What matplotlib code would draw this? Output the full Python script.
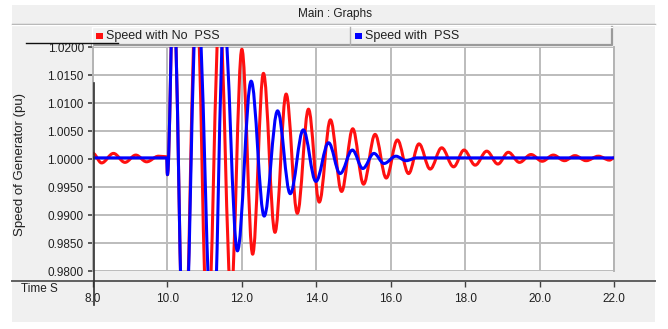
import matplotlib
matplotlib.use('Agg')
import matplotlib.pyplot as plt
from matplotlib.path import Path
from matplotlib.patches import PathPatch, Rectangle
from matplotlib.lines import Line2D

plt.rcParams['font.family'] = ['Liberation Sans', 'DejaVu Sans']

## Data (turning points)
red_t = [8.00, 8.23, 8.55, 8.86, 9.15, 9.44, 9.76, 9.98, 10.00,
         10.16, 10.45, 10.78, 11.08, 11.40, 11.71, 12.00, 12.29, 12.58,
         12.89, 13.19, 13.49, 13.79, 14.08, 14.38, 14.68, 14.98, 15.27,
         15.58, 15.88, 16.18, 16.48, 16.76, 17.06, 17.37, 17.69, 17.97,
         18.27, 18.58, 18.88, 19.16, 19.46, 19.77, 20.07, 20.37, 20.67,
         20.95, 21.25, 21.58, 21.88, 22.00]
red_v = [1.0010, 0.9993, 1.0010, 0.9994, 1.0007, 0.9995, 1.0005, 1.0004, 0.9972,
         1.0300, 0.9620, 1.0300, 0.9680, 1.0260, 0.9760, 1.0196, 0.9830, 1.0153,
         0.9869, 1.0116, 0.9903, 1.0089, 0.9923, 1.0070, 0.9942, 1.0054, 0.9955,
         1.0044, 0.9966, 1.0034, 0.9974, 1.0027, 0.9982, 1.0020, 0.9986, 1.0016,
         0.9989, 1.0014, 0.9991, 1.0012, 0.9994, 1.0008, 0.9996, 1.0007, 0.9997,
         1.0006, 0.9997, 1.0005, 0.9998, 1.0002]

blue_t = [8.00, 9.98, 10.00, 10.16, 10.45, 10.80, 11.22, 11.52, 11.88,
          12.25, 12.60, 12.96, 13.30, 13.65, 13.99, 14.33, 14.64, 14.97,
          15.25, 15.55, 15.82, 16.14, 16.41, 16.70, 22.00]
blue_v = [1.0002, 1.0002, 0.9972, 1.0300, 0.9620, 1.0300, 0.9650, 1.0250, 0.9836,
          1.0139, 0.9898, 1.0086, 0.9938, 1.0052, 0.9960, 1.0029, 0.9974, 1.0016,
          0.9983, 1.0010, 0.9992, 1.0005, 0.9997, 1.0002, 1.0002]

x_ticks = [8.0, 10.0, 12.0, 14.0, 16.0, 18.0, 20.0, 22.0]
y_ticks = [0.9800, 0.9850, 0.9900, 0.9950, 1.0000, 1.0050, 1.0100, 1.0150, 1.0200]

W, H = 668, 329


def fx(px):
    return px / W


def fy(py):
    return 1 - py / H


def smooth_path(ts, vs, k=0.3642):
    # cubic segments with flat tangents at each turning point
    verts = [(ts[0], vs[0])]
    codes = [Path.MOVETO]
    for i in range(len(ts) - 1):
        dt = ts[i + 1] - ts[i]
        verts += [(ts[i] + k * dt, vs[i]), (ts[i + 1] - k * dt, vs[i + 1]), (ts[i + 1], vs[i + 1])]
        codes += [Path.CURVE4] * 3
    return Path(verts, codes)


fig = plt.figure(figsize=(W / 100, H / 100), dpi=100, facecolor='white')

# gray panel behind everything
fig.patches.append(Rectangle((fx(12), fy(322)), fx(655 - 12), (322 - 5) / H,
                             transform=fig.transFigure, facecolor='#f0f0f0',
                             edgecolor='none', zorder=-5))
fig.lines.append(Line2D([fx(12), fx(655)], [fy(23.5), fy(23.5)], transform=fig.transFigure,
                        color='#a8a8a8', lw=1.0))
fig.lines.append(Line2D([fx(12), fx(655)], [fy(25), fy(25)], transform=fig.transFigure,
                        color='white', lw=1.0))
fig.text(fx(335), fy(14), 'Main : Graphs', ha='center', va='center', fontsize=8.5, color='#202020')

ax = fig.add_axes([fx(93), fy(271), fx(614 - 93), (271 - 47) / H])
ax.set_facecolor('white')
ax.add_patch(PathPatch(smooth_path(red_t, red_v), fill=False, edgecolor='#ff1010', lw=2.2,
                       joinstyle='round', capstyle='round', zorder=3))
ax.add_patch(PathPatch(smooth_path(blue_t, blue_v), fill=False, edgecolor='#0000ff', lw=2.2,
                       joinstyle='round', capstyle='round', zorder=4))
ax.set_xlim(8.0, 22.0)
ax.set_ylim(0.98, 1.02)

ax.set_xticks(x_ticks)
ax.set_xticklabels(['%.1f' % v for v in x_ticks])
ax.set_yticks(y_ticks)
ax.set_yticklabels(['%.4f' % v for v in y_ticks])
ax.grid(True, color='#bcbcbc', lw=1.4)
ax.set_axisbelow(True)

for s in ['top', 'right', 'left']:
    ax.spines[s].set_color('#b4b4b4')
    ax.spines[s].set_linewidth(1.4)
ax.spines['top'].set_visible(False)
ax.spines['bottom'].set_position(('outward', 7.2))
ax.spines['bottom'].set_color('#555555')
ax.spines['bottom'].set_linewidth(1.4)
ax.tick_params(axis='x', length=4.3, width=1.0, color='#404040', pad=4.0, labelsize=8.5, labelcolor='#202020')
ax.tick_params(axis='y', length=3.6, width=1.2, color='#404040', pad=3.0, labelsize=8.5, labelcolor='#202020')

# long axis lines like the original window
fig.lines.append(Line2D([fx(12), fx(655)], [fy(281), fy(281)], transform=fig.transFigure,
                        color='#606060', lw=1.4))
fig.lines.append(Line2D([fx(93.5), fx(93.5)], [fy(83), fy(305)], transform=fig.transFigure,
                        color='#303030', lw=1.2))

fig.text(fx(20), fy(165), 'Speed of Generator (pu)', rotation=90, ha='center', va='center',
         fontsize=9.5, color='#202020')
fig.text(fx(21), fy(289), 'Time S', ha='left', va='center', fontsize=8.5, color='#202020')

# legend bar
fig.patches.append(Rectangle((fx(92), fy(45)), fx(612 - 92), 18 / H, transform=fig.transFigure,
                             facecolor='#f0f0f0', edgecolor='none'))
fig.lines.append(Line2D([fx(92), fx(612), fx(612)], [fy(45), fy(45), fy(27)], transform=fig.transFigure,
                        color='#9a9a9a', lw=1.6))
fig.lines.append(Line2D([fx(92), fx(92), fx(612)], [fy(45), fy(27), fy(27)], transform=fig.transFigure,
                        color='white', lw=1.0))
fig.lines.append(Line2D([fx(350), fx(350)], [fy(27), fy(45)], transform=fig.transFigure,
                        color='#b0b0b0', lw=1.0))
fig.patches.append(Rectangle((fx(96), fy(39)), fx(7), 6 / H, transform=fig.transFigure,
                             facecolor='#ff1010', edgecolor='none'))
fig.patches.append(Rectangle((fx(355), fy(39)), fx(7), 6 / H, transform=fig.transFigure,
                             facecolor='#0000ff', edgecolor='none'))
fig.text(fx(106), fy(36), 'Speed with No  PSS', ha='left', va='center', fontsize=9, color='#202020')
fig.text(fx(365), fy(36), 'Speed with  PSS', ha='left', va='center', fontsize=9, color='#202020')
fig.lines.append(Line2D([fx(26), fx(118)], [fy(43), fy(43)], transform=fig.transFigure,
                        color='#101010', lw=1.0))

plt.savefig('out.png', dpi=100, facecolor='white')
